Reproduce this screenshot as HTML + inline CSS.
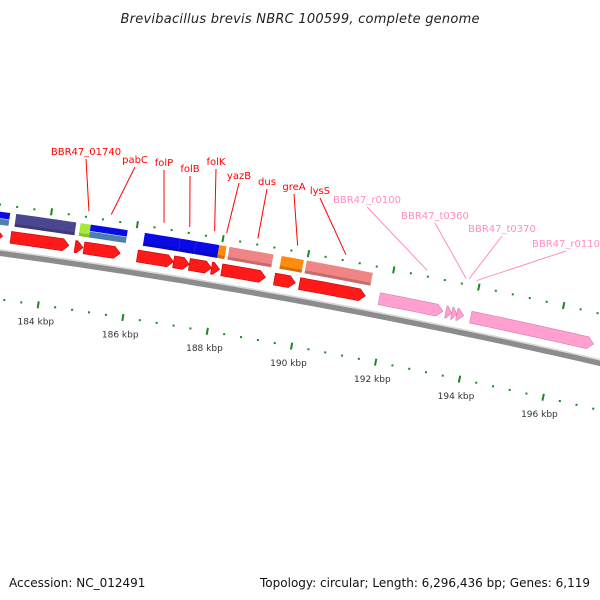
<!DOCTYPE html>
<html><head><meta charset="utf-8"><style>
html,body{margin:0;padding:0;background:#fff;}
svg{display:block;font-family:"DejaVu Sans","Liberation Sans",sans-serif;}
</style></head><body>
<svg id="map" width="600" height="600" viewBox="0 0 600 600">
<rect width="600" height="600" fill="#fff"/>
<text x="300" y="23" text-anchor="middle" font-size="13" font-style="italic" fill="#222" textLength="359">Brevibacillus brevis NBRC 100599, complete genome</text>
<text x="9" y="587" font-size="12" fill="#111">Accession: NC_012491</text>
<text x="590" y="587" font-size="12" fill="#111" text-anchor="end" textLength="330">Topology: circular; Length: 6,296,436 bp; Genes: 6,119</text>
<g id="layer"></g>
</svg>
<script>
// ---- data (kbp) ----
const arrowStart = [182.5, 183.15, 184.65, 184.86, 186.11, 186.96, 187.33, 187.85, 188.09, 189.33, 189.92, 191.80, 193.37, 193.51, 193.63, 193.96];
const arrowEnd   = [182.96,184.51, 184.84, 185.71, 186.96, 187.33, 187.85, 188.04, 189.12, 189.82, 191.47, 193.30, 193.51, 193.63, 193.79, 196.87];
const arrowType  = ['cds','cds','cds','cds','cds','cds','cds','cds','cds','cds','cds','rna','rna','rna','rna','rna'];
const blockStart = [182.5, 183.2, 184.7, 184.94, 186.2, 187.03, 187.40, 187.94, 188.18, 189.40, 189.99];
const blockEnd   = [183.06,184.6, 184.94,185.80, 187.03,187.40, 187.94, 188.11, 189.21, 189.92, 191.54];
const blockType  = ['split','slate','green','split','blue','blue','blue','orange','coral','orange','coral'];
const labelNames  = ['BBR47_01740','pabC','folP','folB','folK','yazB','dus','greA','lysS','BBR47_r0100','BBR47_t0360','BBR47_t0370','BBR47_r0110'];
const labelTarget = [184.85, 185.37, 186.6, 187.2, 187.78, 188.06, 188.79, 189.72, 190.85, 192.76, 193.67, 193.74, 193.92];
const labelKind   = ['cds','cds','cds','cds','cds','cds','cds','cds','cds','rna','rna','rna','rna'];
const tickMajor = [182,184,186,188,190,192,194,196,198];
const tickLabels = ['182 kbp','184 kbp','186 kbp','188 kbp','190 kbp','192 kbp','194 kbp','196 kbp','198 kbp'];
// ---- layout (not data) ----
const labelPos = [[86,152],[135,160],[164,163],[190,169],[216,162],[239,176],[267,182],[294,187],[320,191],[367,200],[435,216],[502,229],[566,244]];
const CX=-899.5, CY=6851, TH0=0.1811, K=0.00647;
const NS='http://www.w3.org/2000/svg';
const layer=document.getElementById('layer');
function ang(p){return TH0+K*(p-190);}
function pt(p,r){const t=ang(p);return [CX+r*Math.sin(t), CY-r*Math.cos(t)];}
function mk(tag,attrs){const e=document.createElementNS(NS,tag);for(const k in attrs)e.setAttribute(k,attrs[k]);layer.appendChild(e);return e;}
function arcPts(p1,p2,r,n){const a=[];for(let i=0;i<=n;i++){a.push(pt(p1+(p2-p1)*i/n,r));}return a;}
function band(p1,p2,r1,r2){const n=Math.max(2,Math.ceil((p2-p1)*4));return arcPts(p1,p2,r2,n).concat(arcPts(p1,p2,r1,n).reverse());}
function ps(a){return a.map(q=>q[0].toFixed(2)+','+q[1].toFixed(2)).join(' ');}
// backbone
let e=mk('polygon',{points:ps(band(182,198,6656,6661.5)),fill:'#8c8c8c'});


e=mk('polygon',{points:ps(band(182,198,6661.5,6663)),fill:'#d8d8d8'});


// ticks
for(let p=182;p<=198.01;p+=0.4){
  const isMaj=Math.abs(p/2-Math.round(p/2))<0.01;
  [[6707,'outer'],[6613,'inner']].forEach(([r,ring])=>{
    let el;
    if(isMaj){const a=pt(p,r-3.5),b=pt(p,r+3.5);el=mk('line',{x1:a[0],y1:a[1],x2:b[0],y2:b[1],stroke:'#1a8a1a','stroke-width':2});}
    else{const c=pt(p,r);el=mk('rect',{x:c[0]-1,y:c[1]-1,width:2,height:2,fill:'#1a8a1a'});}
    
    
  });
}
tickMajor.forEach((p,i)=>{
  const c=pt(p,6596);
  const t=mk('text',{x:c[0],y:c[1]+3,'text-anchor':'middle','font-size':'9',fill:'#333'});
  t.textContent=tickLabels[i];
  
  
});
// arrows (red track)
const arrowCol={cds:['#ff1a1a','#c80000'],rna:['#ffa0d0','#d77aa8']};
arrowStart.forEach((s,i)=>{
  const en=arrowEnd[i],r1=6670,r2=6682,head=Math.min(0.14,(en-s)*0.8);
  const hb=en-head;
  const top=s<hb?arcPts(s,hb,r2,Math.max(2,Math.ceil((hb-s)*4))):[pt(s,r2)];
  const bot=s<hb?arcPts(s,hb,r1,Math.max(2,Math.ceil((hb-s)*4))).reverse():[pt(s,r1)];
  const tip=pt(en,(r1+r2)/2);
  const col=arrowCol[arrowType[i]];
  const g=mk('polygon',{points:ps(top.concat([tip]).concat(bot)),fill:col[0],stroke:col[1],'stroke-width':0.6});
  
  
});
// blocks (outer track)
const blockCol={slate:'#4a4790',green:'#a8e83a',blue:'#0a0ae6',orange:'#ff8c10',coral:'#f08585'};
blockStart.forEach((s,i)=>{
  const en=blockEnd[i],tp=blockType[i];
  let g;
  if(tp==='split'){
    g=mk('polygon',{points:ps(band(s,en,6693.5,6700)),fill:'#0a0ae6'});
    
    
    g=mk('polygon',{points:ps(band(s,en,6687,6693)),fill:'#4a80b0'});
    
    
  } else {
    g=mk('polygon',{points:ps(band(s,en,6687,6700)),fill:blockCol[tp]});
    
    
    g=mk('polygon',{points:ps(band(s,en,6687,6690)),fill:'rgba(0,0,0,0.18)'});
    
    
  }
});
// labels
labelNames.forEach((n,i)=>{
  const [lx,ly]=labelPos[i];
  const col=labelKind[i]==='cds'?'#ff0000':'#ff8cc6';
  const end=pt(labelTarget[i],6713);
  const l=mk('line',{x1:lx,y1:ly+7,x2:end[0],y2:end[1],stroke:col,'stroke-width':1});
  
  
  const t=mk('text',{x:lx,y:ly+3,'text-anchor':'middle','font-size':'10',fill:col});
  t.textContent=n;
  
  
});
</script>
</body></html>
